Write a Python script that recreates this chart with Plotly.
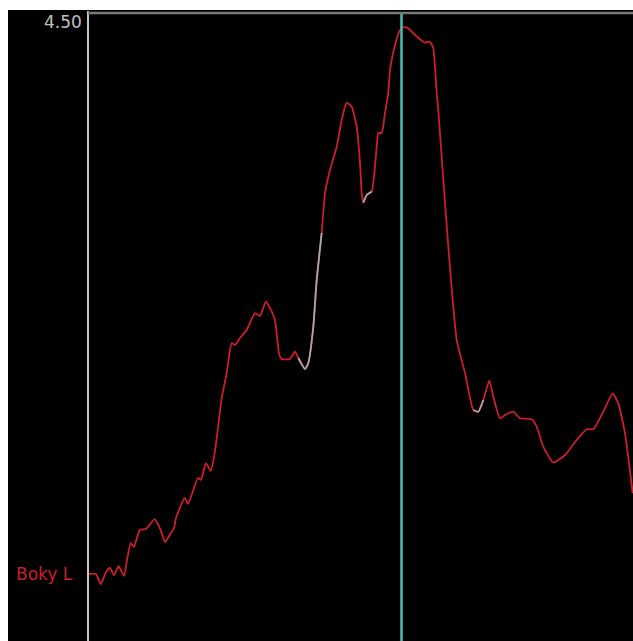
import plotly.graph_objects as go

# Trace samples (time position, amplitude)
t = [0, 8, 12.7, 18, 22, 26, 30.7, 36, 39, 42.7, 46, 51.7, 58, 66.7, 72.7, 77, 81.7, 86, 88,
     96.7, 100, 110, 113, 118, 122.7, 126.7, 133.7, 138.7, 143.7, 147, 152, 158.7, 167, 172,
     178, 183.7, 187, 191.3, 193.7, 202, 207, 210.3, 217, 220.3, 225.3, 228.7, 233.7, 237,
     242, 248.7, 253.7, 258.7, 263.7, 268.7, 272, 273.7, 275.3, 278.7, 283.7, 288.7, 290.3,
     293.7, 297, 300.3, 302, 307, 312, 316, 320.3, 325.3, 332, 337, 342, 345.3, 347, 348.7,
     350.3, 355.3, 362.7, 368.7, 377, 385.3, 390.3, 395.3, 401.3, 405.3, 412, 418.7, 425.3,
     432, 443.7, 448.7, 455.3, 465.3, 477, 488.7, 498.7, 505.3, 515.3, 524.7, 530.3, 537, 544.7]
amp = [0.480, 0.480, 0.408, 0.494, 0.523, 0.473, 0.537, 0.466, 0.580, 0.702, 0.674, 0.795,
       0.803, 0.874, 0.795, 0.709, 0.760, 0.810, 0.881, 1.025, 0.982, 1.168, 1.154, 1.275,
       1.218, 1.347, 1.741, 1.920, 2.135, 2.121, 2.171, 2.228, 2.350, 2.329, 2.431, 2.360,
       2.300, 2.049, 2.021, 2.021, 2.073, 2.028, 1.949, 1.992, 2.252, 2.587, 2.924, 3.210,
       3.375, 3.542, 3.733, 3.857, 3.829, 3.685, 3.425, 3.210, 3.141, 3.196, 3.220, 3.542,
       3.640, 3.640, 3.783, 3.927, 4.092, 4.271, 4.378, 4.398, 4.390, 4.355, 4.312, 4.287,
       4.294, 4.247, 4.115, 3.927, 3.805, 3.303, 2.610, 2.157, 1.920, 1.655, 1.643, 1.727,
       1.865, 1.751, 1.596, 1.627, 1.643, 1.596, 1.589, 1.536, 1.392, 1.278, 1.333, 1.440,
       1.517, 1.517, 1.643, 1.775, 1.703, 1.488, 1.058]

# Stretches of the trace drawn in grey
grey_spans = [(208, 234), (275, 284), (385, 396)]
cursor_t = 313.5
y_top = 4.50
series_name = "Boky L"

RED = "#cc1f2a"
GREY = "#a8a8a8"
FONT = "DejaVu Sans, Verdana, sans-serif"

grey_amp = [a if any(lo <= x <= hi for lo, hi in grey_spans) else None
            for x, a in zip(t, amp)]

fig = go.Figure()
fig.add_trace(go.Scatter(x=t, y=amp, mode="lines",
                         line=dict(color=RED, width=1.8, shape="spline", smoothing=0.5),
                         hoverinfo="skip"))
fig.add_trace(go.Scatter(x=t, y=grey_amp, mode="lines",
                         line=dict(color=GREY, width=1.8, shape="spline", smoothing=0.5),
                         hoverinfo="skip", connectgaps=False))

# cursor line
fig.add_shape(type="line", xref="x", yref="paper", x0=cursor_t, x1=cursor_t, y0=0, y1=1,
              line=dict(color="#4cbcb4", width=2.5))
# left axis line and top border
fig.add_shape(type="line", xref="paper", yref="paper", x0=0, x1=0, y0=0, y1=1.003,
              line=dict(color="#c4c4c4", width=2))
fig.add_shape(type="line", xref="paper", yref="paper", x0=0, x1=1.01, y0=1, y1=1,
              line=dict(color="#7a7a7a", width=2.5))
# white frame strips along top and left edge of the page
fig.add_shape(type="rect", xref="paper", yref="paper", x0=-0.2, x1=1.05,
              y0=(641 - 10) / 628, y1=1.05, fillcolor="white", line_width=0, layer="above")
fig.add_shape(type="rect", xref="paper", yref="paper", x0=-0.2, x1=(8 - 88) / 545,
              y0=-0.05, y1=1.05, fillcolor="white", line_width=0, layer="above")

fig.add_annotation(x=0, xref="paper", y=y_top, yref="y", text=f"{y_top:.2f}",
                   showarrow=False, xanchor="right", yanchor="top", xshift=-4, yshift=3,
                   font=dict(family=FONT, size=17, color="#c0c0c0"))
fig.add_annotation(x=0, xref="paper", y=amp[0], yref="y", text=series_name,
                   showarrow=False, xanchor="right", yanchor="middle", xshift=-13,
                   font=dict(family=FONT, size=17, color=RED))

fig.update_layout(
    width=633, height=641,
    margin=dict(l=88, r=0, t=13, b=0),
    paper_bgcolor="black", plot_bgcolor="black",
    showlegend=False,
    xaxis=dict(range=[0, 545], visible=False, fixedrange=True),
    yaxis=dict(range=[0, y_top], visible=False, fixedrange=True),
)

fig.write_html("out.html", config={"displayModeBar": False})
